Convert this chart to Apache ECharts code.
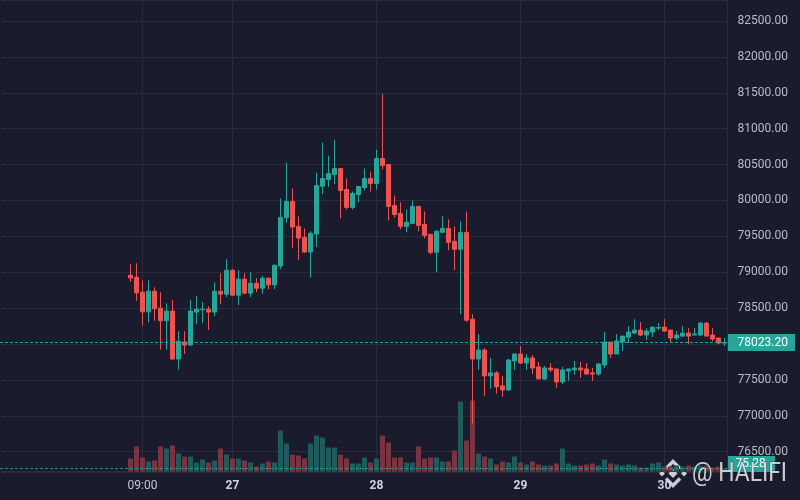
<!DOCTYPE html>
<html>
<head>
<meta charset="utf-8">
<script src="https://cdn.jsdelivr.net/npm/echarts@6/dist/echarts.min.js"></script>
<style>
html, body { margin: 0; padding: 0; background: #1b1b2e; }
#chart { width: 800px; height: 500px; }
</style>
</head>
<body>
<div id="chart"></div>
<script>
// hourly candles, 26 07:00 .. 30 10:00
var openP = [78959, 78931, 78723, 78449, 78736, 78500, 78324, 78459, 77792, 78028,
  77986, 78445, 78478, 78486, 78445, 78736, 78695, 79028, 78681, 78903,
  78709, 78847, 78778, 78917, 78824, 79088, 79760, 79986, 79639, 79486,
  79282, 79532, 80199, 80292, 80361, 80445, 80153, 79903, 80083, 80181,
  80306, 80236, 80584, 80500, 79931, 79820, 79639, 79681, 79917, 79667,
  79528, 79278, 79556, 79611, 79431, 79320, 79556, 78347, 77792, 77917,
  77556, 77598, 77417, 77361, 77764, 77861, 77736, 77806, 77681, 77514,
  77667, 77653, 77473, 77625, 77639, 77667, 77653, 77598, 77583, 77708,
  78028, 77861, 78028, 78097, 78153, 78195, 78125, 78167, 78222, 78236,
  78195, 78084, 78111, 78153, 78125, 78125, 78292, 78125, 78084, 78014];
var closeP = [78921, 78713, 78449, 78736, 78491, 78324, 78459, 77792, 78038, 77986,
  78459, 78486, 78486, 78445, 78736, 78695, 79028, 78681, 78903, 78709,
  78847, 78778, 78917, 78824, 79097, 79764, 79986, 79630, 79477, 79282,
  79542, 80209, 80306, 80375, 80445, 80139, 79903, 80097, 80195, 80306,
  80236, 80584, 80486, 79917, 79806, 79639, 79695, 79917, 79653, 79514,
  79278, 79570, 79611, 79417, 79320, 79556, 78333, 77792, 77917, 77556,
  77598, 77403, 77361, 77778, 77861, 77736, 77806, 77667, 77514, 77667,
  77639, 77473, 77639, 77653, 77667, 77639, 77583, 77583, 77722, 78028,
  77861, 78042, 78111, 78167, 78195, 78125, 78181, 78236, 78230, 78181,
  78084, 78125, 78153, 78111, 78139, 78292, 78111, 78070, 78014, 78023.2];
var lowP = [78866, 78602, 78254, 78302, 78324, 77921, 77921, 77778, 77643, 77861,
  77975, 78278, 78292, 78195, 78389, 78556, 78653, 78681, 78542, 78695,
  78653, 78723, 78700, 78764, 78764, 79042, 79690, 79338, 79171, 79268,
  78921, 79352, 80088, 80185, 80226, 79750, 79875, 79875, 79973, 80139,
  80125, 80153, 80431, 79722, 79764, 79598, 79556, 79681, 79570, 79472,
  79250, 79000, 79556, 79306, 79028, 78417, 78306, 76889, 77639, 77278,
  77375, 77306, 77264, 77347, 77639, 77722, 77639, 77583, 77514, 77500,
  77611, 77389, 77445, 77486, 77570, 77528, 77570, 77486, 77556, 77667,
  77806, 77861, 77903, 78014, 78139, 78111, 78055, 78097, 78195, 78167,
  78014, 78055, 78097, 78000, 78125, 78111, 78111, 78042, 78000, 77972];
var highP = [79111, 79125, 78889, 78889, 78792, 78723, 78570, 78612, 78181, 78181,
  78612, 78667, 78584, 78528, 78861, 78986, 79181, 79042, 79028, 78986,
  79000, 78917, 78949, 78930, 79111, 80028, 80528, 80167, 79778, 79611,
  79570, 80389, 80806, 80625, 80847, 80450, 80306, 80125, 80200, 80445,
  80403, 80709, 81486, 80500, 80070, 79973, 79875, 80000, 79917, 79847,
  79528, 79584, 79778, 79736, 79639, 79709, 79847, 78417, 78139, 77945,
  77806, 77625, 77556, 77792, 77861, 77972, 77861, 77847, 77750, 77695,
  77736, 77653, 77681, 77653, 77764, 77750, 77736, 77667, 77736, 78167,
  78028, 78139, 78111, 78250, 78347, 78306, 78222, 78236, 78292, 78347,
  78195, 78181, 78250, 78222, 78222, 78306, 78306, 78222, 78084, 78084];
var volume = [325, 625, 350, 250, 275, 625, 575, 650, 450, 375,
  375, 225, 300, 225, 275, 575, 425, 325, 325, 275,
  225, 125, 200, 250, 225, 1025, 700, 425, 400, 325,
  700, 900, 850, 600, 600, 425, 325, 200, 200, 350,
  225, 325, 900, 725, 350, 350, 225, 225, 625, 325,
  350, 350, 250, 250, 525, 1750, 775, 1775, 450, 375,
  325, 175, 250, 225, 375, 225, 175, 250, 175, 150,
  150, 200, 575, 200, 150, 150, 175, 200, 150, 300,
  200, 175, 150, 175, 150, 100, 100, 200, 225, 125,
  125, 150, 125, 150, 125, 150, 150, 100, 125, 75.28];
var lastPrice = 78023.2;
var lastVolume = 75.28;

var days = ['25', '26', '27', '28', '29', '30'];
var hours = [];
days.forEach(function (d) {
  for (var h = 0; h < 24; h++) hours.push(d + ' ' + (h < 10 ? '0' : '') + h + ':00');
});
hours = hours.slice(hours.indexOf('25 10:00'), hours.indexOf('30 10:00') + 1);
var firstCandle = hours.indexOf('26 07:00');

var tickCats = ['26 09:00', '27 00:00', '28 00:00', '29 00:00', '30 00:00'];
var tickText = ['09:00', '27', '28', '29', '30'];

var up = '#26a69a', down = '#ef5350';
var upVol = '#1f5a5d', downVol = '#7a3441';
var gridColor = '#2a2b3e';
var markColor = 'rgba(235,235,240,0.85)';
var plotLeft = 1.5, plotRight = 727.5;

var candleData = hours.map(function (t, i) {
  var k = i - firstCandle;
  if (k < 0) return '-';
  var c = closeP[k] >= openP[k] ? up : down;
  return {
    value: [openP[k], closeP[k], lowP[k], highP[k]],
    itemStyle: { color: c, color0: c, borderColor: c, borderColor0: c, borderColorDoji: c }
  };
});
var volData = hours.map(function (t, i) {
  var k = i - firstCandle;
  if (k < 0) return '-';
  return { value: volume[k], itemStyle: { color: closeP[k] >= openP[k] ? upVol : downVol } };
});

var showTick = function (idx, val) { return tickCats.indexOf(val) >= 0; };

var chart = echarts.init(document.getElementById('chart'));
var option = {
  backgroundColor: '#1b1b2e',
  animation: false,
  textStyle: { fontFamily: 'Roboto' },
  grid: { left: plotLeft, right: 800 - plotRight, top: 0, bottom: 28 },
  xAxis: {
    type: 'category',
    data: hours,
    boundaryGap: true,
    axisLine: { show: true, lineStyle: { color: gridColor } },
    axisTick: { show: false },
    splitLine: { show: true, interval: showTick, alignWithLabel: true, lineStyle: { color: gridColor } },
    axisLabel: {
      interval: showTick,
      margin: 8,
      color: '#c3c6ce',
      fontSize: 12,
      formatter: function (val) {
        var t = tickText[tickCats.indexOf(val)];
        return t.indexOf(':') >= 0 ? t : '{b|' + t + '}';
      },
      rich: { b: { fontWeight: 'bold', color: '#d1d4dc', fontSize: 12 } }
    }
  },
  yAxis: [{
    type: 'value',
    position: 'right',
    min: 76217.6,
    max: 82792.6,
    splitNumber: 13,
    minInterval: 500,
    maxInterval: 500,
    axisLine: { show: true, lineStyle: { color: gridColor } },
    axisTick: { show: false },
    splitLine: { lineStyle: { color: gridColor } },
    axisLabel: {
      color: '#b8bbc4',
      fontSize: 12,
      margin: 10,
      formatter: function (v) { return v % 500 === 0 ? v.toFixed(2) : ''; }
    }
  }, {
    type: 'value',
    min: -12.5,
    max: 11800,
    show: false
  }],
  series: [{
    name: 'Volume',
    type: 'bar',
    yAxisIndex: 1,
    barWidth: 5,
    z: 1,
    data: volData
  }, {
    name: 'Price',
    type: 'candlestick',
    barWidth: 5,
    z: 3,
    data: candleData,
    itemStyle: {
      color: up, color0: down,
      borderColor: up, borderColor0: down,
      borderWidth: 1
    }
  }]
};
chart.setOption(option);

// last price / last volume lines and tags, placed through the axes
function crisp(v) { return Math.round(v - 0.5) + 0.5; }
var yP = crisp(chart.convertToPixel({ yAxisIndex: 0 }, lastPrice));
var yV = crisp(chart.convertToPixel({ yAxisIndex: 1 }, lastVolume));

chart.setOption({
  graphic: [
    { type: 'line', z: 50, silent: true,
      shape: { x1: 0, y1: yP, x2: plotRight, y2: yP },
      style: { stroke: up, lineWidth: 1, lineDash: [3, 2] } },
    { type: 'line', z: 5, silent: true,
      shape: { x1: 0, y1: yV, x2: plotRight, y2: yV },
      style: { stroke: up, lineWidth: 1, lineDash: [3, 2], opacity: 0.8 } },
    { type: 'rect', z: 50, silent: true,
      shape: { x: plotRight + 0.5, y: yP - 8.5, width: 67, height: 17 },
      style: { fill: up } },
    { type: 'text', z: 51, silent: true, x: plotRight + 10, y: yP + 0.5,
      style: { text: lastPrice.toFixed(2), fill: '#ffffff', font: '12px Roboto', verticalAlign: 'middle' } },
    { type: 'rect', z: 50, silent: true,
      shape: { x: plotRight + 0.5, y: yV - 12.5, width: 47, height: 16 },
      style: { fill: up } },
    { type: 'text', z: 51, silent: true, x: plotRight + 8, y: yV - 4.5,
      style: { text: lastVolume.toFixed(2), fill: '#ffffff', font: '12px Roboto', verticalAlign: 'middle' } },
    {
      type: 'group',
      x: 658,
      y: 460,
      z: 100,
      silent: true,
      children: [
        { type: 'polygon', shape: { points: [[15, 9], [19.5, 13.5], [15, 18], [10.5, 13.5]] }, style: { fill: markColor } },
        { type: 'polygon', shape: { points: [[4, 10.5], [7, 13.5], [4, 16.5], [1, 13.5]] }, style: { fill: markColor } },
        { type: 'polygon', shape: { points: [[26, 10.5], [29, 13.5], [26, 16.5], [23, 13.5]] }, style: { fill: markColor } },
        { type: 'polyline', shape: { points: [[8, 8.5], [15, 1.5], [22, 8.5]] }, style: { stroke: markColor, lineWidth: 3.5, fill: null } },
        { type: 'polyline', shape: { points: [[8, 18.5], [15, 25.5], [22, 18.5]] }, style: { stroke: markColor, lineWidth: 3.5, fill: null } }
      ]
    }, {
      type: 'text',
      x: 692,
      y: 461,
      scaleX: 0.88,
      z: 100,
      silent: true,
      style: {
        text: '@ HALIFI',
        font: '26px Roboto',
        fill: markColor,
        stroke: 'rgba(20,20,30,0.6)',
        lineWidth: 1
      }
    }
  ]
});
</script>
</body>
</html>
